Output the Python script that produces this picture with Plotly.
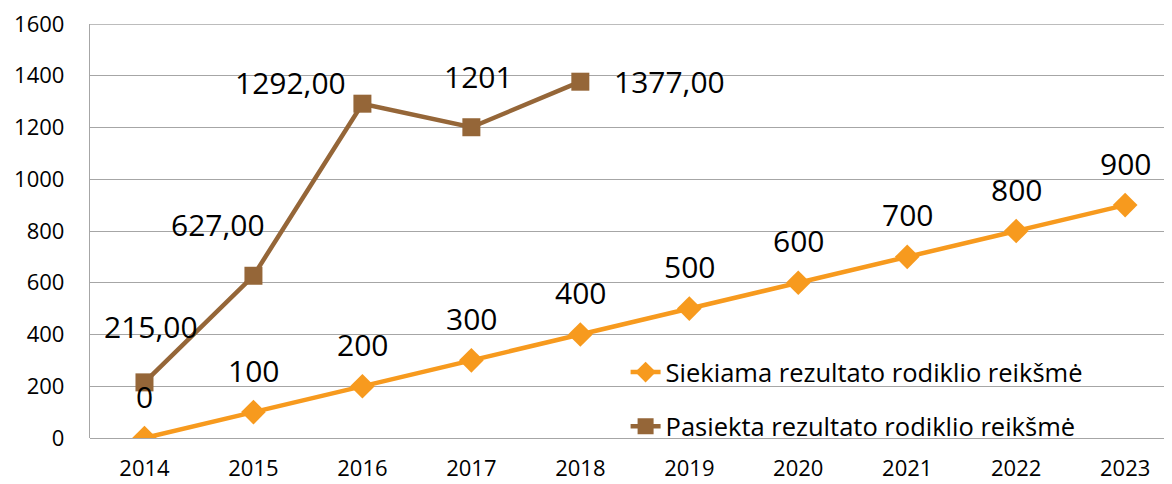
import plotly.graph_objects as go

years = ["2014", "2015", "2016", "2017", "2018", "2019", "2020", "2021", "2022", "2023"]
target = [0, 100, 200, 300, 400, 500, 600, 700, 800, 900]
achieved = [215, 627, 1292, 1201, 1377, None, None, None, None, None]
target_labels = ["0", "100", "200", "300", "400", "500", "600", "700", "800", "900"]
achieved_labels = ["215,00", "627,00", "1292,00", "1201", "1377,00"]
y_ticks = [0, 200, 400, 600, 800, 1000, 1200, 1400, 1600]

ORANGE = "#F79A1E"
BROWN = "#956638"
FONT = "Open Sans, sans-serif"

fig = go.Figure()
fig.add_trace(go.Scatter(
    x=years, y=target, mode="lines+markers", name="Siekiama rezultato rodiklio reikšmė",
    line=dict(color=ORANGE, width=4.5), marker=dict(symbol="diamond", size=19, color=ORANGE),
    legendgroup="a",
))
fig.add_trace(go.Scatter(
    x=years, y=achieved, mode="lines+markers", name="Pasiekta rezultato rodiklio reikšmė",
    line=dict(color=BROWN, width=4.5), marker=dict(symbol="square", size=18, color=BROWN),
    legendgroup="b",
))

for i, (yv, t) in enumerate(zip(target, target_labels)):
    fig.add_annotation(x=i, y=yv, text=t, showarrow=False, yshift=42,
                       font=dict(family=FONT, size=30, color="black"))

shifts = [(7, 56), (-35, 51), (-72, 21), (7, 51), (89, 0)]
for i, (yv, t, (dx, dy)) in enumerate(zip(achieved, achieved_labels, shifts)):
    fig.add_annotation(x=i, y=yv, text=t, showarrow=False, xshift=dx, yshift=dy,
                       font=dict(family=FONT, size=30, color="black"))

fig.update_layout(
    width=1164, height=476,
    margin=dict(l=82, r=0, t=16, b=46),
    paper_bgcolor="white", plot_bgcolor="white",
    font=dict(family=FONT, color="black"),
    showlegend=True,
    legend=dict(x=0.495, y=0.215, xanchor="left", yanchor="top",
                bgcolor="rgba(0,0,0,0)", font=dict(size=25.5, family=FONT),
                tracegroupgap=18, traceorder="grouped"),
)
fig.update_xaxes(type="category", range=[-0.5, 9.43], showgrid=False, showline=False,
                 ticks="", tickfont=dict(size=22, family=FONT), zeroline=False,
                 ticklabelstandoff=15, ticklabeloverflow="allow", automargin=False)
fig.update_yaxes(range=[0, 1600], tickvals=y_ticks, showgrid=True, gridcolor="#A6A6A6",
                 gridwidth=1.3, zeroline=True, zerolinecolor="#A6A6A6", zerolinewidth=1.3,
                 showline=True, linecolor="#A6A6A6", linewidth=1.3, ticks="",
                 tickfont=dict(size=22, family=FONT), ticklabelstandoff=20,
                 ticklabeloverflow="allow", automargin=False)
fig.add_hline(y=1600, line=dict(color="#A6A6A6", width=1.3), layer="below")

fig.write_html("out.html")
